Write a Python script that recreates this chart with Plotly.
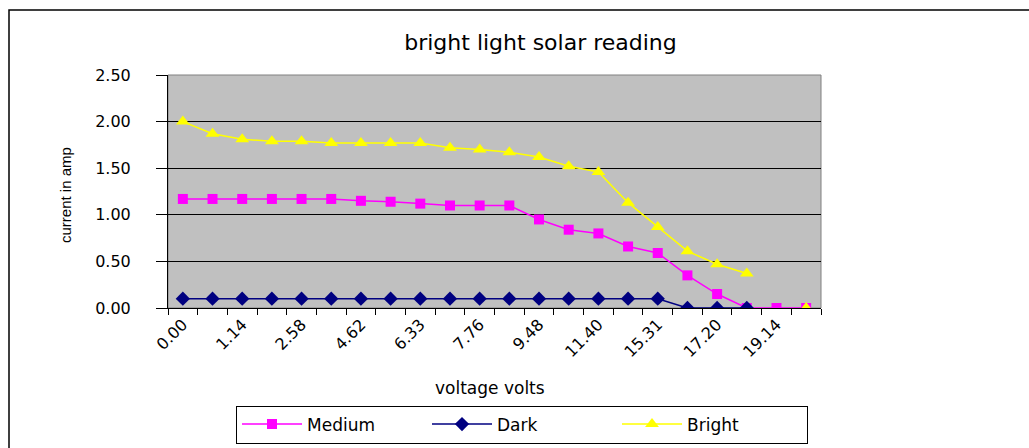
import plotly.graph_objects as go

# ---- data ----
tick_labels = ["0.00", "1.14", "2.58", "4.62", "6.33", "7.76",
               "9.48", "11.40", "15.31", "17.20", "19.14"]
medium = [1.17, 1.17, 1.17, 1.17, 1.17, 1.17, 1.15, 1.14, 1.12, 1.10, 1.10,
          1.10, 0.95, 0.84, 0.80, 0.66, 0.59, 0.35, 0.15, 0.00, 0.00, 0.00]
dark = [0.10, 0.10, 0.10, 0.10, 0.10, 0.10, 0.10, 0.10, 0.10, 0.10, 0.10,
        0.10, 0.10, 0.10, 0.10, 0.10, 0.10, 0.00, 0.00, 0.00, None, None]
bright = [2.00, 1.87, 1.81, 1.79, 1.79, 1.77, 1.77, 1.77, 1.77, 1.72, 1.70,
          1.67, 1.62, 1.52, 1.46, 1.13, 0.87, 0.61, 0.47, 0.37, None, 0.00]
y_ticks = [0, 0.5, 1.0, 1.5, 2.0, 2.5]

n = len(medium)
xs = list(range(n))
tick_pos = xs[::2]

FONT = "DejaVu Sans"

fig = go.Figure()
fig.add_trace(go.Scatter(
    x=xs, y=medium, name="Medium", mode="lines+markers",
    line=dict(color="#FF00FF", width=1.5),
    marker=dict(symbol="square", size=10, color="#FF00FF")))
fig.add_trace(go.Scatter(
    x=xs, y=dark, name="Dark", mode="lines+markers",
    line=dict(color="#000080", width=1.5),
    marker=dict(symbol="diamond", size=11, color="#000080")))
fig.add_trace(go.Scatter(
    x=xs, y=bright, name="Bright", mode="lines+markers",
    line=dict(color="#FFFF00", width=1.5),
    marker=dict(symbol="triangle-up", size=12, color="#FFFF00")))

L, R, T, B = 168, 208, 75, 140
W, H = 1029, 448
pw, ph = W - L - R, H - T - B


def px_x(p):
    return (p - L) / pw


def px_y(p):
    return (H - B - p) / ph


fig.update_layout(
    width=W, height=H,
    margin=dict(l=L, r=R, t=T, b=B, autoexpand=False),
    paper_bgcolor="white",
    plot_bgcolor="#C0C0C0",
    font=dict(family=FONT, color="black", size=16),
    title=dict(text="bright light solar reading", x=px_x(511), xanchor="center",
               y=1 - 42 / H, yanchor="middle",
               font=dict(family=FONT, size=22, color="black")),
    showlegend=True,
    legend=dict(orientation="h", x=px_x(522), xanchor="center",
                y=px_y(424.5), yanchor="middle",
                bordercolor="black", borderwidth=1, bgcolor="white",
                font=dict(family=FONT, size=17, color="black"),
                itemwidth=60, entrywidth=115, entrywidthmode="pixels",
                traceorder="normal"),
    xaxis=dict(
        range=[-0.5, n - 0.5], tickmode="array", tickvals=tick_pos,
        ticktext=tick_labels, tickangle=-45, ticks="", showgrid=False,
        zeroline=False, showline=True, linecolor="black", linewidth=1,
        tickfont=dict(family=FONT, size=16, color="black"),
        minor=dict(tickmode="linear", tick0=-0.5, dtick=1, ticks="outside",
                   ticklen=6, tickcolor="black", tickwidth=1, showgrid=False),
        fixedrange=True),
    yaxis=dict(
        range=[0, 2.5], tickmode="array", tickvals=y_ticks,
        tickformat=".2f", ticks="outside", ticklen=11, tickcolor="black",
        showgrid=True, gridcolor="black", gridwidth=1, zeroline=False,
        showline=True, linecolor="black", linewidth=1,
        ticklabelstandoff=22,
        tickfont=dict(family=FONT, size=16, color="black"),
        fixedrange=True),
    annotations=[
        dict(text="voltage volts", xref="paper", yref="paper",
             x=px_x(490), y=px_y(388), xanchor="center", yanchor="middle",
             showarrow=False, font=dict(family=FONT, size=17, color="black")),
        dict(text="current in amp", xref="paper", yref="paper",
             x=px_x(65), y=px_y(195), xanchor="center", yanchor="middle",
             textangle=-90, showarrow=False,
             font=dict(family="Liberation Sans", size=15, color="black")),
    ],
    shapes=[
        # plot-area border (grey, Excel style)
        dict(type="rect", xref="paper", yref="paper", x0=0, y0=0, x1=1, y1=1,
             line=dict(color="#808080", width=1), layer="below"),
        # chart-area border
        dict(type="rect", xref="paper", yref="paper",
             x0=px_x(9), y0=px_y(470), x1=px_x(1060), y1=px_y(10),
             line=dict(color="black", width=1.5), fillcolor="rgba(0,0,0,0)"),
    ],
)

fig.write_html(
    "out.html",
    config={"displayModeBar": False},
    post_script="document.body.style.margin='0';"
                "document.body.style.overflow='hidden';",
)
